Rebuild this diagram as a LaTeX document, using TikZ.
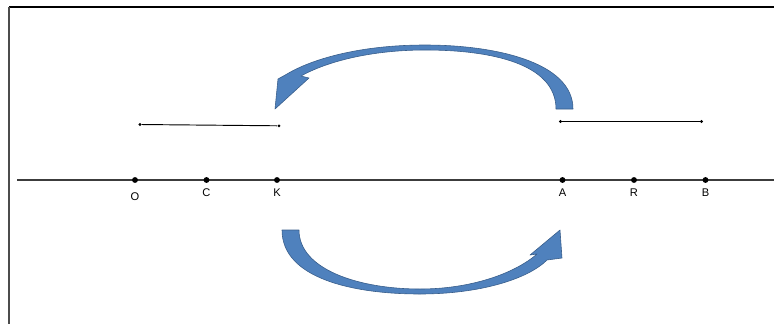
\documentclass[tikz,border=0pt]{standalone}
\usepackage{fontspec}
\setmainfont{Liberation Sans}
\usepackage{tikz}
\usetikzlibrary{positioning}
\definecolor{arrowblue}{RGB}{79,129,189}
\definecolor{arrowedge}{RGB}{56,93,138}
\definecolor{axisgray}{RGB}{60,60,60}
\tikzset{
  % points on the main line
  bigdot/.style={circle, fill=black, inner sep=0pt, minimum size=5pt},
  % end points of the short segments
  smalldot/.style={circle, fill=black, inner sep=0pt, minimum size=2.6pt},
  ptlabel/.style={font=\fontsize{9.5}{11}\selectfont, inner sep=0pt},
  axisline/.style={line width=1.1pt, color=axisgray},
  segline/.style={line width=0.8pt, black},
  bigarrow/.style={fill=arrowblue, draw=arrowedge, line width=0.5pt, line join=round}
}

\begin{document}
\begin{tikzpicture}[x=0.03cm, y=-0.03cm]
  \useasboundingbox (0,0) rectangle (774,324);

  % Frame
  \draw[line width=1.2pt, black] (774,7) -- (9,7);
  \draw[line width=1.2pt, black!70] (9,7) -- (9,324);

  % Main line
  \coordinate (left) at (17,180);
  \coordinate (right) at (774,180);
  \draw[axisline] (left) -- (right);

  % Points
  \node[bigdot] (O) at (135,180) {};
  \node[bigdot] (C) at (206.5,180) {};
  \node[bigdot] (K) at (277,180) {};
  \node[bigdot] (A) at (562.5,180) {};
  \node[bigdot] (R) at (634,180) {};
  \node[bigdot] (B) at (705.5,180) {};

  % Labels
  \node[ptlabel] (Olab) at (135,197) {O};
  \node[ptlabel] (Clab) at (206.5,192.5) {C};
  \node[ptlabel] (Klab) at (277,192.5) {K};
  \node[ptlabel] (Alab) at (562.5,193) {A};
  \node[ptlabel] (Rlab) at (634,193) {R};
  \node[ptlabel] (Blab) at (705.5,193) {B};

  % Short segments
  \node[smalldot] (ok1) at (140,124.5) {};
  \node[smalldot] (ok2) at (279,125.8) {};
  \draw[segline] (ok1) -- (ok2);
  \node[smalldot] (ab1) at (560.5,121.5) {};
  \node[smalldot] (ab2) at (701.5,121.5) {};
  \draw[segline] (ab1) -- (ab2);

  % Upper curved arrow (right to left)
  \draw[bigarrow] (573,109) .. controls (573,62) and (495,45) .. (425,45)
    .. controls (360,45) and (312,59) .. (287,74)
    -- (278,79) -- (275,109) -- (309,78) -- (301,76)
    .. controls (326,62) and (370,50) .. (425,50)
    .. controls (492,50) and (556,64) .. (556,109) -- cycle;

  % Lower curved arrow (left to right)
  \draw[bigarrow] (282,230) .. controls (282,278) and (352,294) .. (420,294)
    .. controls (480,294) and (528,279) .. (547,260)
    -- (562,258) -- (560,230) -- (530,255) -- (537,254)
    .. controls (514,274) and (470,289) .. (420,289)
    .. controls (360,289) and (299,270) .. (299,230) -- cycle;
\end{tikzpicture}
\end{document}
